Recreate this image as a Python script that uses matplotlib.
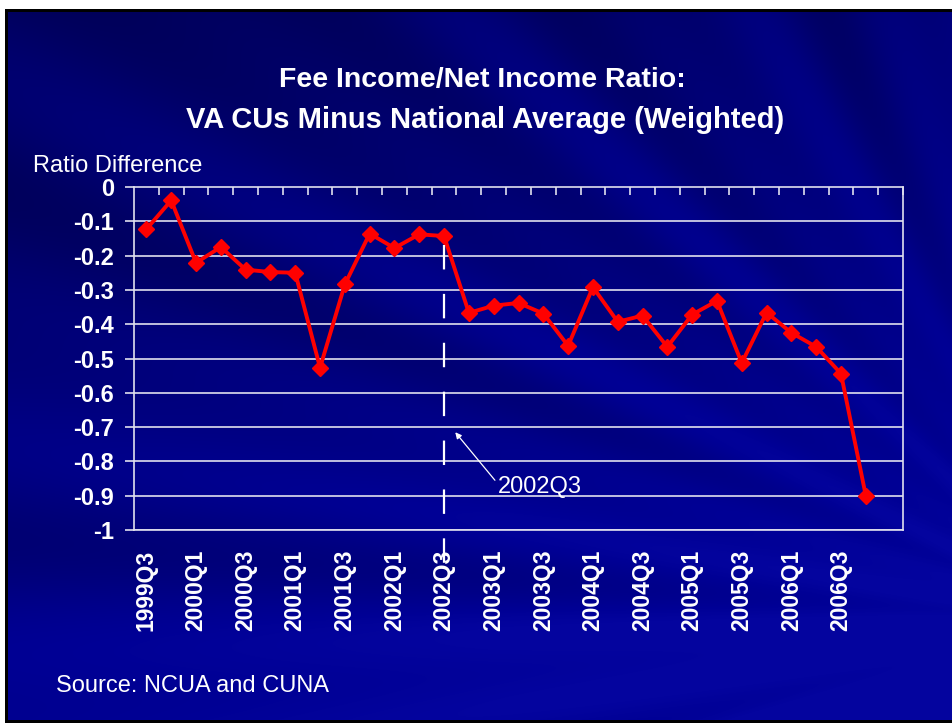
import matplotlib.pyplot as plt
import numpy as np

# quarters shown on the chart (the last category slot is left empty)
quarters = ['1999Q3', '1999Q4', '2000Q1', '2000Q2', '2000Q3', '2000Q4',
            '2001Q1', '2001Q2', '2001Q3', '2001Q4', '2002Q1', '2002Q2',
            '2002Q3', '2002Q4', '2003Q1', '2003Q2', '2003Q3', '2003Q4',
            '2004Q1', '2004Q2', '2004Q3', '2004Q4', '2005Q1', '2005Q2',
            '2005Q3', '2005Q4', '2006Q1', '2006Q2', '2006Q3', '2006Q4']
ratio_diff = [-0.123, -0.039, -0.221, -0.175, -0.241, -0.248,
              -0.250, -0.527, -0.284, -0.136, -0.178, -0.138,
              -0.143, -0.367, -0.346, -0.338, -0.369, -0.463,
              -0.292, -0.393, -0.375, -0.466, -0.372, -0.332,
              -0.513, -0.366, -0.425, -0.466, -0.544, -0.900]
n_slots = 31
marker_quarter = '2002Q3'
yticks = [0, -0.1, -0.2, -0.3, -0.4, -0.5, -0.6, -0.7, -0.8, -0.9, -1]
ytick_labels = ['0', '-0.1', '-0.2', '-0.3', '-0.4', '-0.5', '-0.6', '-0.7', '-0.8', '-0.9', '-1']

plt.rcParams['font.family'] = ['Liberation Sans', 'DejaVu Sans']

W, H = 953, 723
fig = plt.figure(figsize=(W / 100, H / 100), dpi=100)

# slide background: dark navy top-left, brighter blue bottom-right, faint rays
bg = fig.add_axes([0, 0, 1, 1], zorder=-10)
yy, xx = np.mgrid[0:H, 0:W]
theta = np.arctan2(yy - 620.0, 1100.0 - xx)
r = np.hypot(xx - 1100.0, yy - 620.0)
base = 0.36 + 0.20 * (yy / H) + 0.10 * (xx / W)
rays = 0.035 * np.sin(theta * 23) + 0.025 * np.sin(theta * 41 + 1.3)
shade = np.clip(base + rays * np.clip(r / 600, 0.3, 1.0), 0.34, 0.62)
img = np.zeros((H, W, 3))
img[..., 0] = np.clip((shade - 0.58) * 0.4, 0, 1)
img[..., 1] = np.clip((shade - 0.58) * 0.4, 0, 1)
img[..., 2] = shade
img[:, :8, :] = 0.0
img[:, :5, :] = 1.0
img[:9, :, :] = 1.0
img[9:12, 5:, :] = 0.0
img[720:, 5:, :] = 0.0
bg.imshow(img, extent=[0, W, H, 0], aspect='auto', interpolation='bilinear')
bg.set_xlim(0, W)
bg.set_ylim(H, 0)
bg.axis('off')

ax = fig.add_axes([134 / W, 1 - 530 / H, (903 - 134) / W, (530 - 187) / H])
ax.patch.set_alpha(0)

grid_c = '#e0e0ee'
for y in yticks[1:]:
    ax.axhline(y, color=grid_c, lw=1.2, zorder=1)

x = np.arange(len(quarters))
ax.plot(x, ratio_diff, color='#ff0000', lw=2.8, marker='D', markersize=8,
        markeredgecolor='#ff0000', zorder=4)

# dashed marker for 2002Q3
qx = quarters.index(marker_quarter)
ax.plot([qx, qx], [-0.17, -1.1], color='white', lw=1.6, dashes=(11, 11),
        clip_on=False, zorder=5)
ax.annotate('', xy=(qx + 0.45, -0.715), xytext=(qx + 2.05, -0.855),
            arrowprops=dict(arrowstyle='-|>', color='white', lw=0.9,
                            mutation_scale=9, shrinkA=0, shrinkB=0))
ax.text(qx + 2.15, -0.875, marker_quarter, color='white', fontsize=17,
        va='center', ha='left')

ax.set_xlim(-0.5, n_slots - 0.5)
ax.set_ylim(-1, 0)

for side in ['left', 'right', 'top', 'bottom']:
    ax.spines[side].set_color(grid_c)
    ax.spines[side].set_linewidth(1.2)

ax.set_yticks(yticks)
ax.set_yticklabels(ytick_labels)
ax.tick_params(axis='y', colors=grid_c, length=6.5, width=1.2, pad=8,
               labelsize=17, labelcolor='white')
for lbl in ax.get_yticklabels():
    lbl.set_fontweight('bold')

# category boundary ticks on the top line, labels every other quarter below
ax.set_xticks(np.arange(n_slots) + 0.5)
ax.tick_params(axis='x', which='major', top=True, bottom=False, direction='in',
               length=6, width=1.2, colors=grid_c, labelbottom=False, labeltop=False)
ax.set_xticks(x[::2], minor=True)
ax.set_xticklabels(quarters[::2], minor=True, rotation=90, fontsize=16.5,
                   fontweight='bold', color='white')
ax.tick_params(axis='x', which='minor', length=0, pad=14, bottom=True, top=False)

fig.text(482 / W, 1 - 80 / H, 'Fee Income/Net Income Ratio:', color='white',
         fontsize=20.5, fontweight='bold', ha='center', va='center')
fig.text(485 / W, 1 - 120 / H, 'VA CUs Minus National Average (Weighted)', color='white',
         fontsize=21, fontweight='bold', ha='center', va='center')
fig.text(33 / W, 1 - 166 / H, 'Ratio Difference', color='white', fontsize=17,
         ha='left', va='center')
fig.text(56 / W, 1 - 686 / H, 'Source: NCUA and CUNA', color='white', fontsize=17,
         ha='left', va='center')

fig.savefig('out.png', dpi=100)
